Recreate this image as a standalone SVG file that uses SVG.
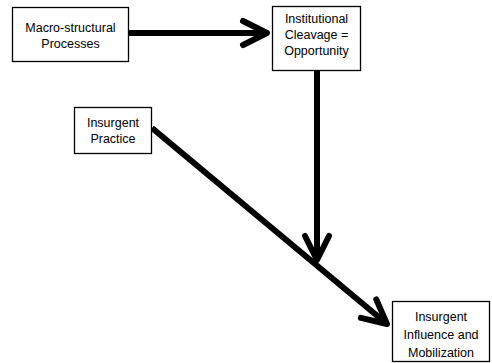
<svg xmlns="http://www.w3.org/2000/svg" width="492" height="363" viewBox="0 0 492 363">
<style>
.box{fill:#fff;stroke:#000;stroke-width:1.3}
.lbl{font-family:"Liberation Sans",Arial,sans-serif;font-size:12.5px;fill:#000;text-anchor:middle}
.conn{stroke:#000;stroke-width:6;fill:none}
</style>
<defs>
<marker id="arr" markerUnits="userSpaceOnUse" viewBox="-30 -18 36 36" refX="0" refY="0" markerWidth="36" markerHeight="36" orient="auto" overflow="visible">
<path d="M-24,-12 L0,0 L-24,12" fill="none" stroke="#000" stroke-width="6" stroke-linecap="round" stroke-linejoin="round"/>
</marker>
</defs>
<rect width="492" height="363" fill="#fff"/>
<g id="connectors">
<line class="conn" x1="129" y1="33" x2="267" y2="33" marker-end="url(#arr)"/>
<line class="conn" x1="317" y1="71" x2="317" y2="260" marker-end="url(#arr)"/>
<line class="conn" x1="152" y1="128" x2="387" y2="324" marker-end="url(#arr)"/>
</g>
<g id="macro">
<rect class="box" x="12.5" y="7.5" width="116" height="54"/>
<text class="lbl" x="70.5" y="31.5">Macro-structural</text>
<text class="lbl" x="70.5" y="47.5">Processes</text>
</g>
<g id="cleavage">
<rect class="box" x="272.5" y="6.5" width="88" height="64"/>
<text class="lbl" x="316.5" y="22.5">Institutional</text>
<text class="lbl" x="316.5" y="38.5">Cleavage =</text>
<text class="lbl" x="316.5" y="54.5">Opportunity</text>
</g>
<g id="practice">
<rect class="box" x="74.5" y="107.5" width="77" height="46"/>
<text class="lbl" x="113" y="126.5">Insurgent</text>
<text class="lbl" x="113" y="142.5">Practice</text>
</g>
<g id="influence">
<rect class="box" x="392.5" y="301.5" width="97" height="60"/>
<text class="lbl" x="441" y="320.5">Insurgent</text>
<text class="lbl" x="441" y="338.5">Influence and</text>
<text class="lbl" x="441" y="356.5">Mobilization</text>
</g>
</svg>
